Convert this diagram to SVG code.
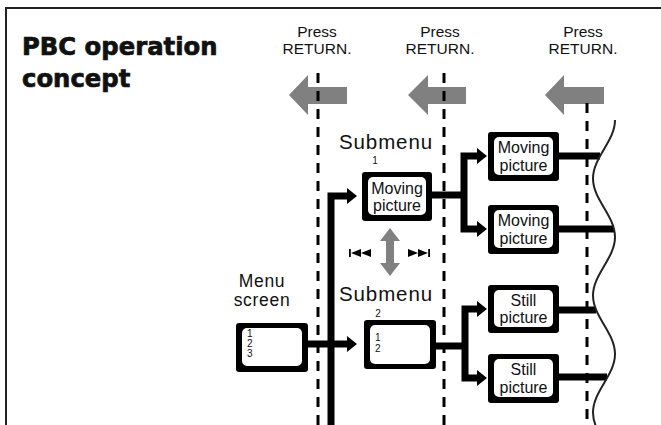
<svg xmlns="http://www.w3.org/2000/svg" width="661" height="425" viewBox="0 0 661 425">
<defs>
<style>
.t{font-family:"Liberation Sans",Arial,sans-serif;fill:#111}
.title{font-family:"DejaVu Sans","Liberation Sans",sans-serif;font-weight:bold;font-size:24.3px;fill:#111;stroke:#111;stroke-width:0.7}
.press{font-size:15.5px;text-anchor:middle}
.lbl{font-size:20.5px;text-anchor:middle;letter-spacing:0.9px}
.bx{font-size:16px;text-anchor:middle}
.num{font-size:10px}
.outer{fill:#000}
.inner{fill:#fff}
.conn{fill:none;stroke:#000;stroke-width:7;stroke-linejoin:miter}
.dash{fill:none;stroke:#000;stroke-width:3;stroke-dasharray:10 8}
.gray{fill:#808080}
.frame{fill:none;stroke:#222;stroke-width:2}
</style>
<marker id="ah" markerUnits="userSpaceOnUse" markerWidth="10" markerHeight="16" refX="0" refY="8" orient="auto" viewBox="0 0 10 16">
<path d="M0,0 L10,8 L0,16 z" fill="#000"/>
</marker>
</defs>
<rect width="661" height="425" fill="#fff"/>
<path class="frame" d="M6,425 V8 H661"/>

<g id="title">
<text class="title" x="22" y="55">PBC operation</text>
<text class="title" x="22" y="87">concept</text>
</g>

<g id="return-arrows">
<g id="return1">
<text class="t press" x="317" y="37">Press</text>
<text class="t press" x="317" y="54">RETURN.</text>
<path class="gray" d="M289,95 L308,75 V87 H347 V104 H308 V115 z"/>
</g>
<g id="return2">
<text class="t press" x="440" y="37">Press</text>
<text class="t press" x="440" y="54">RETURN.</text>
<path class="gray" d="M408,95 L428,75 V87 H466 V104 H428 V115 z"/>
</g>
<g id="return3">
<text class="t press" x="583" y="37">Press</text>
<text class="t press" x="583" y="54">RETURN.</text>
<path class="gray" d="M545,95 L564,75 V87 H604 V104 H564 V115 z"/>
</g>
</g>

<g id="dashed-lines">
<line class="dash" x1="318" y1="73" x2="318" y2="425"/>
<line class="dash" x1="444" y1="73" x2="444" y2="425"/>
<line class="dash" x1="587" y1="103" x2="587" y2="425"/>
</g>

<g id="skip-control">
<path class="gray" d="M390,228 L400,241 H394 V263 H400 L390,276 L380,263 H386 V241 H380 z"/>
<rect x="349" y="249" width="1.8" height="8" fill="#000"/>
<path d="M351,253 L361,249 V257 z M361,253 L371,249 V257 z" fill="#000"/>
<path d="M408,249 L418,253 L408,257 z M418,249 L428,253 L418,257 z" fill="#000"/>
<rect x="428.2" y="249" width="1.8" height="8" fill="#000"/>
</g>

<g id="connectors">
<path class="conn" d="M331,425 V196 H347" marker-end="url(#ah)"/>
<path class="conn" d="M308,344 H347" marker-end="url(#ah)"/>
<path class="conn" d="M432,195 H464"/>
<path class="conn" d="M464,195 V156 H477" marker-end="url(#ah)"/>
<path class="conn" d="M464,195 V229 H477" marker-end="url(#ah)"/>
<path class="conn" d="M436,346 H465"/>
<path class="conn" d="M465,346 V309 H477" marker-end="url(#ah)"/>
<path class="conn" d="M465,346 V378 H477" marker-end="url(#ah)"/>
<path class="conn" d="M559,156 H600"/>
<path class="conn" d="M559,229 H614"/>
<path class="conn" d="M559,310 H596"/>
<path class="conn" d="M559,377 H607"/>
<path d="M615,120 C615,141.3 593,157.2 593,178.5 C593,199.8 615,215.7 615,237 C615,258.3 593,274.2 593,295.5 C593,316.8 615,332.7 615,354 C615,375.3 593,391.2 593,412.5 C593,433.8 615,449.7 615,471" fill="none" stroke="#222" stroke-width="2"/>
</g>

<g id="menu-screen">
<text class="t" x="262" y="287" font-size="17.5" text-anchor="middle" letter-spacing="0.7">Menu</text>
<text class="t" x="262" y="306" font-size="17.5" text-anchor="middle" letter-spacing="0.7">screen</text>
<rect class="outer" x="236" y="323" width="72" height="49" rx="3"/>
<rect class="inner" x="242" y="328" width="60" height="38" rx="5"/>
<text class="t num" x="247" y="337">1</text>
<text class="t num" x="247" y="347">2</text>
<text class="t num" x="247" y="357">3</text>
</g>

<g id="submenu1">
<text class="t lbl" x="386" y="149">Submenu</text>
<text class="t" x="375" y="164" font-size="10" text-anchor="middle">1</text>
<rect class="outer" x="362" y="172" width="70" height="49" rx="3"/>
<rect class="inner" x="368" y="177" width="58" height="38" rx="5"/>
<text class="t bx" x="397" y="194">Moving</text>
<text class="t bx" x="397" y="211">picture</text>
</g>

<g id="submenu2">
<text class="t lbl" x="386" y="301">Submenu</text>
<text class="t" x="378" y="317" font-size="10" text-anchor="middle">2</text>
<rect class="outer" x="364" y="320" width="72" height="49" rx="3"/>
<rect class="inner" x="370" y="325" width="60" height="39" rx="5"/>
<text class="t num" x="375" y="341">1</text>
<text class="t num" x="375" y="352">2</text>
</g>

<g id="moving1">
<rect class="outer" x="488" y="132" width="71" height="49" rx="3"/>
<rect class="inner" x="494" y="137" width="59" height="38" rx="5"/>
<text class="t bx" x="523.5" y="153">Moving</text>
<text class="t bx" x="523.5" y="170.5">picture</text>
</g>

<g id="moving2">
<rect class="outer" x="488" y="205" width="71" height="49" rx="3"/>
<rect class="inner" x="494" y="210" width="59" height="38" rx="5"/>
<text class="t bx" x="523.5" y="226">Moving</text>
<text class="t bx" x="523.5" y="243.5">picture</text>
</g>

<g id="still1">
<rect class="outer" x="488" y="285" width="71" height="48" rx="3"/>
<rect class="inner" x="494" y="290" width="59" height="37" rx="5"/>
<text class="t bx" x="523.5" y="306">Still</text>
<text class="t bx" x="523.5" y="323">picture</text>
</g>

<g id="still2">
<rect class="outer" x="488" y="354" width="71" height="49" rx="3"/>
<rect class="inner" x="494" y="359" width="59" height="38" rx="5"/>
<text class="t bx" x="523.5" y="375">Still</text>
<text class="t bx" x="523.5" y="392.5">picture</text>
</g>
</svg>
